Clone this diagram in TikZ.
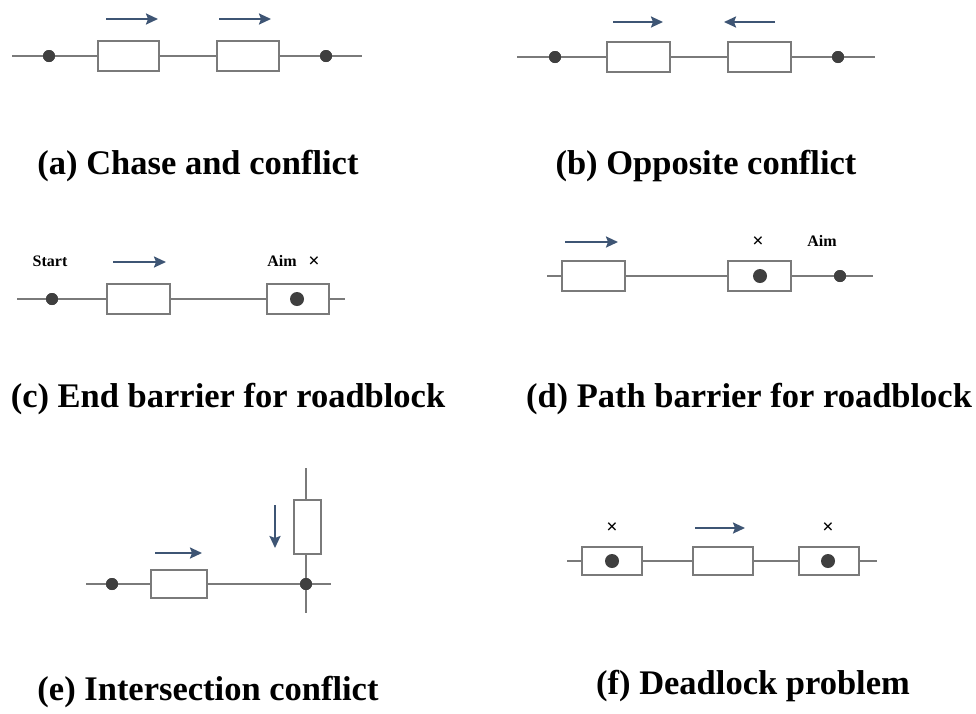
\documentclass[tikz,border=0pt]{standalone}
\usepackage{fontspec}
\setmainfont{Liberation Serif}
\usetikzlibrary{arrows.meta}
\definecolor{wire}{HTML}{7A7A7A}
\definecolor{dotc}{HTML}{3F3F3F}
\definecolor{arr}{HTML}{3E5574}
\begin{document}
\begin{tikzpicture}[x=1pt,y=-1pt,
  wire/.style={draw=wire,line width=1.8pt},
  blk/.style={draw=wire,line width=1.8pt,fill=white,rectangle,inner sep=0pt},
  dotn/.style={circle,fill=dotc,inner sep=0pt,minimum size=12pt},
  mv/.style={draw=arr,line width=2.2pt,-{Stealth[length=12pt,width=11pt,inset=2pt]}},
  ttl/.style={font=\fontsize{34.5}{38}\selectfont\bfseries,inner sep=0pt},
  sml/.style={font=\fontsize{16}{18}\selectfont\bfseries,inner sep=0pt},
  crs/.style={font=\fontsize{20}{20}\selectfont\bfseries,inner sep=0pt}]
\useasboundingbox (0,0) rectangle (976,713);
% (a)
\coordinate (aL) at (12,56); \coordinate (aR) at (362,56);
\node[dotn] (a1) at (49,56) {};
\node[blk,minimum width=61pt,minimum height=30pt] (aB1) at (128.5,56) {};
\node[blk,minimum width=62pt,minimum height=30pt] (aB2) at (248,56) {};
\node[dotn] (a2) at (326,56) {};
\draw[wire] (aL) -- (a1) -- (aB1); \draw[wire] (aB1) -- (aB2); \draw[wire] (aB2) -- (a2) -- (aR);
\node[dotn] at (49,56) {}; \node[dotn] at (326,56) {};
\coordinate (aA1s) at (106,19); \coordinate (aA1e) at (158,19);
\coordinate (aA2s) at (219,19); \coordinate (aA2e) at (271,19);
\draw[mv] (aA1s) -- (aA1e); \draw[mv] (aA2s) -- (aA2e);
\node[ttl] (ta) at (198,166) {(a) Chase and conflict};
% (b)
\coordinate (bL) at (517,57); \coordinate (bR) at (875,57);
\node[dotn] (b1) at (555,57) {};
\node[blk,minimum width=63pt,minimum height=30pt] (bB1) at (638.5,57) {};
\node[blk,minimum width=63pt,minimum height=30pt] (bB2) at (759.5,57) {};
\node[dotn] (b2) at (838,57) {};
\draw[wire] (bL) -- (b1) -- (bB1); \draw[wire] (bB1) -- (bB2); \draw[wire] (bB2) -- (b2) -- (bR);
\node[dotn] at (555,57) {}; \node[dotn] at (838,57) {};
\coordinate (bA1s) at (613,22); \coordinate (bA1e) at (663,22);
\coordinate (bA2s) at (775,22); \coordinate (bA2e) at (724,22);
\draw[mv] (bA1s) -- (bA1e); \draw[mv] (bA2s) -- (bA2e);
\node[ttl] (tb) at (706,166) {(b) Opposite conflict};
% (c)
\coordinate (cL) at (17,299); \coordinate (cR) at (345,299);
\node[dotn] (c1) at (52,299) {};
\node[blk,minimum width=63pt,minimum height=30pt] (cB1) at (138.5,299) {};
\node[blk,minimum width=62pt,minimum height=30pt] (cB2) at (298,299) {};
\draw[wire] (cL) -- (c1) -- (cB1); \draw[wire] (cB1) -- (cB2); \draw[wire] (cB2) -- (cR);
\node[dotn] at (52,299) {};
\node[dotn,minimum size=14pt] (c2) at (297,299) {};
\node[sml] (cs) at (50,261) {Start};
\node[sml] (ca) at (282,261) {Aim};
\node[crs] (cx) at (314,262) {×};
\coordinate (cAs) at (113,262); \coordinate (cAe) at (166,262);
\draw[mv] (cAs) -- (cAe);
\node[ttl] (tc) at (228,399) {(c) End barrier for roadblock};
% (d)
\coordinate (dL) at (547,276); \coordinate (dR) at (873,276);
\node[blk,minimum width=63pt,minimum height=30pt] (dB1) at (593.5,276) {};
\node[blk,minimum width=63pt,minimum height=30pt] (dB2) at (759.5,276) {};
\node[dotn] (d2) at (840,276) {};
\draw[wire] (dL) -- (dB1); \draw[wire] (dB1) -- (dB2); \draw[wire] (dB2) -- (d2) -- (dR);
\node[dotn] at (840,276) {};
\node[dotn,minimum size=14pt] (d1) at (760,276) {};
\node[crs] (dx) at (758,242) {×};
\node[sml] (da) at (822,241) {Aim};
\coordinate (dAs) at (565,242); \coordinate (dAe) at (618,242);
\draw[mv] (dAs) -- (dAe);
\node[ttl] (td) at (749,399) {(d) Path barrier for roadblock};
% (e)
\coordinate (eL) at (86,584); \coordinate (eR) at (331,584);
\coordinate (eT) at (306,468); \coordinate (eBt) at (306,613);
\node[dotn] (e1) at (112,584) {};
\node[blk,minimum width=56pt,minimum height=28pt] (eB1) at (179,584) {};
\node[blk,minimum width=27pt,minimum height=54pt] (eB2) at (307.5,527) {};
\node[dotn] (e2) at (306,584) {};
\draw[wire] (eL) -- (e1) -- (eB1); \draw[wire] (eB1) -- (e2) -- (eR);
\draw[wire] (eT) -- (eT |- eB2.north); \draw[wire] (eB2.south -| e2) -- (e2) -- (eBt);
\node[dotn] at (112,584) {}; \node[dotn] at (306,584) {};
\coordinate (eAs) at (155,553); \coordinate (eAe) at (202,553);
\coordinate (eVs) at (275,505); \coordinate (eVe) at (275,548);
\draw[mv] (eAs) -- (eAe); \draw[mv] (eVs) -- (eVe);
\node[ttl] (te) at (208,692) {(e) Intersection conflict};
% (f)
\coordinate (fL) at (567,561); \coordinate (fR) at (877,561);
\node[blk,minimum width=60pt,minimum height=28pt] (fB1) at (612,561) {};
\node[blk,minimum width=60pt,minimum height=28pt] (fB2) at (723,561) {};
\node[blk,minimum width=60pt,minimum height=28pt] (fB3) at (829,561) {};
\draw[wire] (fL) -- (fB1); \draw[wire] (fB1) -- (fB2); \draw[wire] (fB2) -- (fB3); \draw[wire] (fB3) -- (fR);
\node[dotn,minimum size=14pt] (f1) at (612,561) {};
\node[dotn,minimum size=14pt] (f3) at (828,561) {};
\node[crs] (fx1) at (612,528) {×};
\node[crs] (fx3) at (828,528) {×};
\coordinate (fAs) at (695,528); \coordinate (fAe) at (745,528);
\draw[mv] (fAs) -- (fAe);
\node[ttl] (tf) at (753,686) {(f) Deadlock problem};
\end{tikzpicture}
\end{document}
